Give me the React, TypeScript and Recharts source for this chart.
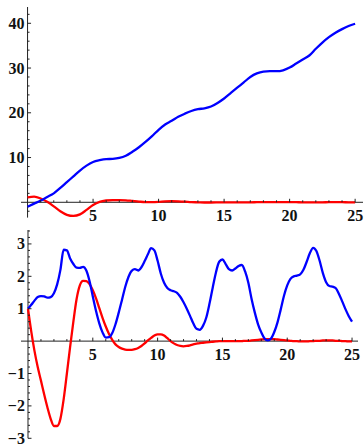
import React from "react";
import {
	LineChart,
	Line,
	XAxis,
	YAxis,
	ReferenceLine,
	ReferenceDot,
} from "recharts";

// top panel, sampled every 0.5
const topT = [
	0, 0.5, 1, 1.5, 2, 2.5, 3, 3.5, 4, 4.5, 5, 5.5, 6, 6.5, 7, 7.5, 8, 8.5, 9,
	9.5, 10, 10.5, 11, 11.5, 12, 12.5, 13, 13.5, 14, 14.5, 15, 15.5, 16, 16.5,
	17, 17.5, 18, 18.5, 19, 19.5, 20, 20.5, 21, 21.5, 22, 22.5, 23, 23.5, 24,
	24.5, 25,
];
const topBlue = [
	-1.0, -0.3, 0.4, 1.2, 2.0, 3.2, 4.5, 5.8, 7.1, 8.2, 9.0, 9.4, 9.65, 9.7,
	9.9, 10.4, 11.3, 12.3, 13.5, 14.8, 16.2, 17.4, 18.2, 19.1, 19.8, 20.4, 20.8,
	21.0, 21.4, 22.2, 23.2, 24.4, 25.6, 26.8, 28.0, 28.8, 29.2, 29.3, 29.3, 29.5,
	30.1, 31.0, 31.9, 32.8, 34.3, 35.7, 36.9, 37.9, 38.7, 39.4, 39.9,
];
const topRed = [
	1.1, 1.25, 0.85, 0.1, -0.9, -2.0, -2.8, -3.05, -2.7, -1.7, -0.6, 0.1, 0.4,
	0.5, 0.5, 0.45, 0.3, 0.15, 0.05, 0.05, 0.1, 0.2, 0.25, 0.22, 0.15, 0.05, 0,
	-0.05, -0.05, -0.03, 0, 0, 0, 0, 0, 0.02, 0.03, 0.05, 0.05, 0.05, 0.03, 0.02,
	0, 0, 0, 0, 0.02, 0.02, 0.02, 0, 0,
];

// bottom panel, sampled every 0.25
const bottomT = [
	0, 0.25, 0.5, 0.75, 1, 1.25, 1.5, 1.75, 2, 2.25, 2.5, 2.75, 3, 3.25, 3.5,
	3.75, 4, 4.25, 4.5, 4.75, 5, 5.25, 5.5, 5.75, 6, 6.25, 6.5, 6.75, 7, 7.25,
	7.5, 7.75, 8, 8.25, 8.5, 8.75, 9, 9.25, 9.5, 9.75, 10, 10.25, 10.5, 10.75, 11,
	11.25, 11.5, 11.75, 12, 12.25, 12.5, 12.75, 13, 13.25, 13.5, 13.75, 14, 14.25,
	14.5, 14.75, 15, 15.25, 15.5, 15.75, 16, 16.25, 16.5, 16.75, 17, 17.25, 17.5,
	17.75, 18, 18.25, 18.5, 18.75, 19, 19.25, 19.5, 19.75, 20, 20.25, 20.5, 20.75,
	21, 21.25, 21.5, 21.75, 22, 22.25, 22.5, 22.75, 23, 23.25, 23.5, 23.75, 24,
	24.25, 24.5, 24.75, 25,
];
const bottomBlue = [
	1.0, 1.12, 1.25, 1.36, 1.39, 1.38, 1.34, 1.36, 1.48, 1.75, 2.2, 2.82, 2.8,
	2.55, 2.38, 2.27, 2.26, 2.29, 2.18, 1.85, 1.38, 0.93, 0.55, 0.27, 0.11, 0.12,
	0.25, 0.52, 0.88, 1.27, 1.67, 1.98, 2.17, 2.22, 2.18, 2.28, 2.47, 2.68, 2.87,
	2.8, 2.48, 2.08, 1.8, 1.64, 1.57, 1.54, 1.49, 1.37, 1.2, 1.0, 0.78, 0.55,
	0.38, 0.35, 0.47, 0.72, 1.15, 1.65, 2.12, 2.45, 2.52, 2.38, 2.22, 2.18, 2.24,
	2.32, 2.35, 2.15, 1.8, 1.3, 0.88, 0.52, 0.27, 0.08, 0.02, 0.08, 0.28, 0.58,
	0.98, 1.4, 1.72, 1.92, 2.0, 2.02, 2.06, 2.2, 2.45, 2.72, 2.88, 2.78, 2.48,
	2.1, 1.82, 1.7, 1.68, 1.63, 1.45, 1.22, 0.98, 0.77, 0.6,
];
const bottomRed = [
	1.0, 0.3, -0.3, -0.8, -1.22, -1.65, -2.05, -2.4, -2.62, -2.62, -2.4, -1.8,
	-1.0, -0.18, 0.6, 1.3, 1.72, 1.86, 1.85, 1.76, 1.57, 1.32, 1.02, 0.72, 0.45,
	0.22, 0.04, -0.1, -0.18, -0.23, -0.26, -0.27, -0.27, -0.25, -0.21, -0.15,
	-0.07, 0.02, 0.1, 0.17, 0.21, 0.21, 0.17, 0.09, 0.0, -0.07, -0.12, -0.15,
	-0.16, -0.15, -0.13, -0.1, -0.08, -0.06, -0.05, -0.04, -0.03, -0.02, -0.01, 0,
	0, 0, 0, 0, 0, 0, 0, 0.01, 0.01, 0.02, 0.03, 0.04, 0.05, 0.06, 0.06, 0.06,
	0.06, 0.05, 0.04, 0.03, 0.02, 0.01, 0.0, 0, -0.01, -0.01, -0.01, 0, 0, 0.01,
	0.01, 0.02, 0.02, 0.02, 0.02, 0.01, 0.01, 0, 0, -0.01, -0.01,
];

// ticks
const xMajor = [5, 10, 15, 20, 25];
const topYMajor = [10, 20, 30, 40];
const bottomYMajor = [-3, -2, -1, 1, 2, 3];

const range = (from: number, to: number, step: number) => {
	const out: number[] = [];
	for (let v = from; v <= to + 1e-9; v += step) out.push(Math.round(v * 100) / 100);
	return out;
};
const xMinor = range(1, 25, 1).filter((v) => v % 5 !== 0);
const topYMinor = range(-2, 42, 2).filter((v) => v % 10 !== 0);
const bottomYMinor = range(-2.8, 3.4, 0.2).filter(
	(v) => Math.abs(v - Math.round(v)) > 0.01
);

const topData = topT.map((t, i) => ({ t, blue: topBlue[i], red: topRed[i] }));
const bottomData = bottomT.map((t, i) => ({
	t,
	blue: bottomBlue[i],
	red: bottomRed[i],
}));

const AXIS = "#222";
const labelStyle: React.CSSProperties = {
	fontFamily: '"Liberation Serif", "DejaVu Serif", serif',
	fontWeight: 700,
	fontSize: 16,
	fill: "#111",
};

const fmt = (v: number) => (v < 0 ? `\u2212${Math.abs(v)}` : `${v}`);

const xTick = (len: number, label?: string) => (props: any) => {
	const { cx, cy } = props;
	return (
		<g>
			<line x1={cx} y1={cy} x2={cx} y2={cy - len} stroke={AXIS} strokeWidth={1} />
			{label && (
				<text
					x={cx}
					y={cy + 13}
					textAnchor="middle"
					dominantBaseline="central"
					style={labelStyle}
				>
					{label}
				</text>
			)}
		</g>
	);
};

const yTick = (len: number, label?: string) => (props: any) => {
	const { cx, cy } = props;
	return (
		<g>
			<line x1={cx} y1={cy} x2={cx + len} y2={cy} stroke={AXIS} strokeWidth={1} />
			{label && (
				<text
					x={cx - 3}
					y={cy}
					textAnchor="end"
					dominantBaseline="central"
					style={labelStyle}
				>
					{label}
				</text>
			)}
		</g>
	);
};

function Panel({
	data,
	height,
	margin,
	xDomain,
	yDomain,
	yMajor,
	yMinor,
}: any) {
	return (
		<LineChart width={364} height={height} data={data} margin={margin}>
			<XAxis
				dataKey="t"
				type="number"
				domain={xDomain}
				allowDataOverflow
				hide
			/>
			<YAxis type="number" domain={yDomain} allowDataOverflow hide />
			<ReferenceLine y={0} stroke={AXIS} strokeWidth={1} />
			<ReferenceLine x={0} stroke={AXIS} strokeWidth={1} />
			{xMinor.map((v) => (
				<ReferenceDot key={`xm${v}`} x={v} y={0} r={0} shape={xTick(2)} />
			))}
			{xMajor.map((v) => (
				<ReferenceDot key={`xM${v}`} x={v} y={0} r={0} shape={xTick(3.5, fmt(v))} />
			))}
			{yMinor.map((v: number) => (
				<ReferenceDot key={`ym${v}`} x={0} y={v} r={0} shape={yTick(2)} />
			))}
			{yMajor.map((v: number) => (
				<ReferenceDot key={`yM${v}`} x={0} y={v} r={0} shape={yTick(3.5, fmt(v))} />
			))}
			<Line
				type="monotone"
				dataKey="red"
				stroke="#ff0000"
				strokeWidth={2.3}
				dot={false}
				isAnimationActive={false}
			/>
			<Line
				type="monotone"
				dataKey="blue"
				stroke="#0000ff"
				strokeWidth={2.3}
				dot={false}
				isAnimationActive={false}
			/>
		</LineChart>
	);
}

export default function App() {
	return (
		<div
			style={{
				position: "absolute",
				top: 0,
				left: 0,
				width: 364,
				height: 448,
				background: "#fff",
			}}
		>
			<Panel
				data={topData}
				height={224}
				margin={{ top: 7, right: 1, bottom: 6.4, left: 21 }}
				xDomain={[-0.5, 25.6]}
				yDomain={[-3.42, 43.64]}
				yMajor={topYMajor}
				yMinor={topYMinor}
			/>
			<Panel
				data={bottomData}
				height={224}
				margin={{ top: 6, right: 6, bottom: 9.7, left: 21 }}
				xDomain={[-0.54, 25.46]}
				yDomain={[-3.0, 3.43]}
				yMajor={bottomYMajor}
				yMinor={bottomYMinor}
			/>
		</div>
	);
}
